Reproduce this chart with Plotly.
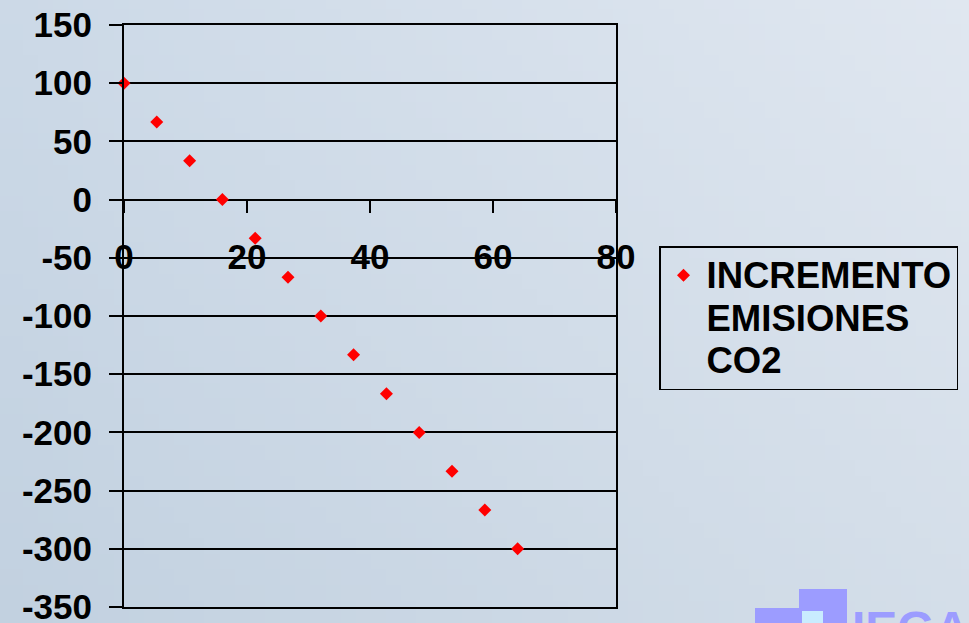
import base64
import struct
import zlib

import plotly.graph_objects as go

# Series: increase of CO2 emissions
x_vals = [0, 5.33, 10.67, 16, 21.33, 26.67, 32, 37.33, 42.67, 48, 53.33, 58.67, 64]
y_vals = [100, 66.7, 33.3, 0, -33.3, -66.7, -100, -133.3, -166.7, -200, -233.3, -266.7, -300]
name_lines = ["INCREMENTO", "EMISIONES", "CO2"]

x_ticks = [0, 20, 40, 60, 80]
y_ticks = [150, 100, 50, 0, -50, -100, -150, -200, -250, -300, -350]

W, H = 969, 623
L, R, T, B = 124, 616, 25, 607
FAMILY = "Liberation Sans, Arial, sans-serif"


def gradient_png(w, h, tl, tr, bl, br):
    rows = bytearray()
    for j in range(h):
        v = j / (h - 1)
        rows.append(0)
        for i in range(w):
            u = i / (w - 1)
            for c in range(3):
                top = tl[c] * (1 - u) + tr[c] * u
                bot = bl[c] * (1 - u) + br[c] * u
                rows.append(int(round(top * (1 - v) + bot * v)))

    def chunk(tag, data):
        return (struct.pack(">I", len(data)) + tag + data
                + struct.pack(">I", zlib.crc32(tag + data) & 0xFFFFFFFF))

    png = (b"\x89PNG\r\n\x1a\n"
           + chunk(b"IHDR", struct.pack(">IIBBBBB", w, h, 8, 2, 0, 0, 0))
           + chunk(b"IDAT", zlib.compress(bytes(rows), 9))
           + chunk(b"IEND", b""))
    return "data:image/png;base64," + base64.b64encode(png).decode()


def px(xp):
    return (xp - L) / (R - L)


def py(yp):
    return (B - yp) / (B - T)


font_main = dict(family=FAMILY, size=35, color="black", weight="bold")

# legend label: larger glyphs, tighter line pitch
series_name = "<br>".join(
    f"<span style='font-size:36.5px'>{s}</span>" for s in name_lines)

fig = go.Figure()
fig.add_trace(go.Scatter(
    x=x_vals, y=y_vals, mode="markers", name=series_name,
    marker=dict(symbol="diamond", size=10, color="#ff0000"),
    cliponaxis=False, showlegend=True,
))
# invisible companion trace to carry the top/bottom frame axis
fig.add_trace(go.Scatter(x=[None], y=[None], xaxis="x2", showlegend=False,
                         hoverinfo="skip"))

logo = "#9c9cff"
shapes = [
    dict(type="rect", xref="paper", yref="paper", x0=px(799), x1=px(847),
         y0=py(640), y1=py(589), fillcolor=logo, line_width=0, layer="above"),
    dict(type="rect", xref="paper", yref="paper", x0=px(755), x1=px(800),
         y0=py(640), y1=py(608), fillcolor=logo, line_width=0, layer="above"),
    dict(type="rect", xref="paper", yref="paper", x0=px(802), x1=px(823),
         y0=py(640), y1=py(611), fillcolor="#c9ecff", line_width=0, layer="above"),
]

fig.update_layout(
    width=W, height=H,
    margin=dict(l=L, r=W - R, t=T, b=H - B, autoexpand=False),
    paper_bgcolor="#cbd8e5",
    plot_bgcolor="rgba(0,0,0,0)",
    font=dict(family=FAMILY, color="black"),
    images=[dict(
        source=gradient_png(64, 40, (204, 217, 231), (224, 231, 240),
                            (194, 209, 224), (212, 222, 233)),
        xref="paper", yref="paper", x=px(0), y=py(0),
        sizex=px(W) - px(0), sizey=py(0) - py(H),
        sizing="stretch", layer="below", xanchor="left", yanchor="top",
    )],
    xaxis=dict(
        range=[0, 80], tickvals=x_ticks, ticktext=[str(v) for v in x_ticks],
        anchor="free", position=350 / 500, automargin=False,
        showgrid=False, zeroline=False, showline=False,
        ticks="outside", ticklen=12, tickwidth=1.5, tickcolor="black",
        tickfont=font_main, ticklabelstandoff=14, ticklabeloverflow="allow",
    ),
    xaxis2=dict(
        range=[0, 80], overlaying="x", anchor="y", side="bottom",
        showline=True, linecolor="black", linewidth=2, mirror=True,
        showgrid=False, zeroline=False, showticklabels=False, ticks="",
        automargin=False,
    ),
    yaxis=dict(
        range=[-350, 150], tickvals=y_ticks, ticktext=[str(v) for v in y_ticks],
        automargin=False, ticklabeloverflow="allow",
        showgrid=True, gridcolor="black", gridwidth=1.5,
        zeroline=True, zerolinecolor="black", zerolinewidth=1.5,
        showline=True, linecolor="black", linewidth=2, mirror=True,
        ticks="outside", ticklen=13, tickwidth=1.5, tickcolor="black",
        tickfont=font_main, ticklabelstandoff=10,
    ),
    legend=dict(
        x=px(659), y=py(246), xanchor="left", yanchor="top",
        bgcolor="rgba(0,0,0,0)", bordercolor="black", borderwidth=1.5,
        font=dict(family=FAMILY, size=32.7, color="black", weight="bold"),
        valign="top", itemwidth=36,
    ),
    shapes=shapes,
    annotations=[dict(
        text="<b>IEGA</b>", xref="paper", yref="paper", x=px(850), y=py(600),
        xanchor="left", yanchor="top", showarrow=False,
        font=dict(family=FAMILY, size=48, color=logo),
    )],
)

fig.write_html("out.html")
